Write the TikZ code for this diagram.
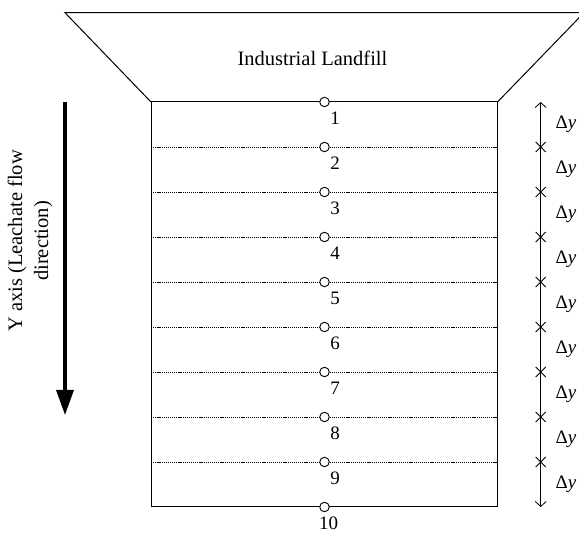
\documentclass[tikz,border=0pt]{standalone}
\usepackage{fontspec}
\setmainfont{Liberation Serif}
\usetikzlibrary{arrows.meta,calc}
\tikzset{
  px/.style={x=1pt,y=-1pt},
  wall/.style={line width=1pt},
  layer/.style={line width=0.6pt, dash pattern=on 1.2pt off 0.9pt},
  port/.style={circle, draw, line width=0.9pt, fill=white, inner sep=0pt, minimum size=9.5pt},
  portlabel/.style={inner sep=0pt, font=\fontsize{19}{22}\selectfont},
  dimlabel/.style={inner sep=0pt, font=\fontsize{19}{22}\selectfont},
  tickx/.style={line width=0.8pt},
}
\begin{document}
\begin{tikzpicture}[px]
\clip (0,0) rectangle (579,534);
\fill[white] (0,0) rectangle (579,534);
% landfill trapezoid
\coordinate (TL) at (65,12.7);
\coordinate (TR) at (584,12.7);
\coordinate (BL) at (151,102);
\coordinate (BR) at (497.5,102);
\coordinate (BBL) at (151,507);
\coordinate (BBR) at (497.5,507);
\draw[wall, line join=miter] (BL) -- (TL) -- (TR) -- (BR);
\node[inner sep=0pt, font=\fontsize{20.5}{24}\selectfont] (title) at (312.5,58) {Industrial Landfill};
% column
\draw[wall] (BL) -- (BR);
\draw[wall] (BL) -- (BBL) -- (BBR) -- (BR);
% layer lines
\foreach \i in {2,...,9}{
  \coordinate (L\i) at (151,{102+45*(\i-1)});
  \coordinate (R\i) at (497.5,{102+45*(\i-1)});
  \draw[layer] (L\i) -- (R\i);
}
% ports
\foreach \i in {1,...,10}{
  \node[port] (c\i) at (324.5,{102+45*(\i-1)}) {};
}
\foreach \i in {1,...,9}{
  \node[portlabel] (n\i) at (335,{118+45*(\i-1)}) {\i};
}
\node[portlabel] (n10) at (328.5,523) {10};
% dimension line
\foreach \i in {0,...,9}{
  \coordinate (D\i) at (540.7,{102+45*\i});
}
\draw[line width=0.8pt, {Straight Barb[length=5pt,width=11pt]}-{Straight Barb[length=5pt,width=11pt]}] (D0) -- (D9);
\foreach \i in {1,...,8}{
  \draw[tickx] ($(D\i)+(-5,-5)$) -- ($(D\i)+(5,5)$);
  \draw[tickx] ($(D\i)+(-5,5)$) -- ($(D\i)+(5,-5)$);
}
\foreach \i in {1,...,9}{
  \node[dimlabel] (dy\i) at (566,{124.5+45*(\i-1)}) {Δ\textit{y}};
}
% flow arrow
\coordinate (A0) at (65,102);
\coordinate (A1) at (65,415);
\draw[line width=3.3pt, -{Triangle[length=25pt,width=17pt]}] (A0) -- (A1);
\node[rotate=90, align=center, inner sep=0pt, font=\fontsize{20.5}{26}\selectfont] (ylab) at (30,241) {Y axis (Leachate flow\\direction)};
\end{tikzpicture}
\end{document}
